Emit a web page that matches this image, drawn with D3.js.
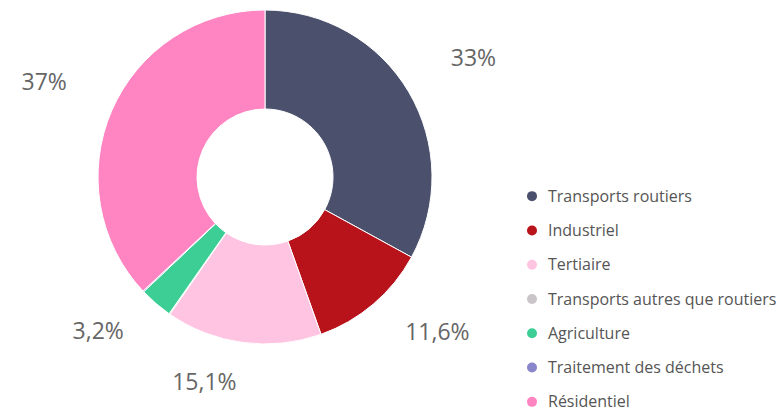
<!DOCTYPE html>
<html>
<head>
<meta charset="utf-8">
<script src="https://cdn.jsdelivr.net/npm/d3@7"></script>
<style>
  body { margin: 0; background: #fff; }
  svg { display: block; font-family: 'Open Sans', sans-serif; }
</style>
</head>
<body>
<div id="chart"></div>
<script>
const width = 783;
const height = 410;

// sectors, in drawing order (clockwise from the top)
const sectors = ['Transports routiers', 'Industriel', 'Tertiaire', 'Transports autres que routiers',
  'Agriculture', 'Traitement des déchets', 'Résidentiel'];
const shares = [33, 11.6, 15.1, 0.1, 3.2, 0.1, 37];
const labels = ['33%', '11,6%', '15,1%', '', '3,2%', '', '37%'];
const colors = ['#4b516c', '#b8121b', '#ffc4e1', '#c9c5c9', '#3cce94', '#8a86cc', '#ff84c2'];

const cx = 265;
const cy = 177;
const outerRadius = 167;
const innerRadius = 68;
const labelRadius = 216;

const svg = d3.select('#chart')
  .append('svg')
  .attr('width', width)
  .attr('height', height);

const data = sectors.map((s, i) => ({name: s, value: shares[i], label: labels[i], color: colors[i]}));

const pie = d3.pie()
  .sort(null)
  .value(d => d.value);

const arc = d3.arc()
  .innerRadius(innerRadius)
  .outerRadius(outerRadius);

const arcs = pie(data);

const g = svg.append('g')
  .attr('transform', 'translate(' + cx + ',' + cy + ')');

g.selectAll('path.slice')
  .data(arcs)
  .enter().append('path')
  .attr('class', 'slice')
  .attr('d', arc)
  .attr('fill', d => d.data.color)
  .attr('stroke', '#fff')
  .attr('stroke-width', 1);

// percentage labels outside the ring, no connectors
g.selectAll('text.pct')
  .data(arcs.filter(d => d.data.label))
  .enter().append('text')
  .attr('class', 'pct')
  .attr('x', d => labelRadius * Math.sin((d.startAngle + d.endAngle) / 2))
  .attr('y', d => -labelRadius * Math.cos((d.startAngle + d.endAngle) / 2) - 1)
  .attr('text-anchor', d => (d.startAngle + d.endAngle) / 2 < Math.PI ? 'start' : 'end')
  .attr('fill', '#666')
  .style('font-size', '23px')
  .text(d => d.data.label);

// legend
const legendX = 532;
const legendY = d3.scaleBand()
  .domain(sectors)
  .range([179, 419]);

const item = svg.selectAll('g.legend')
  .data(data)
  .enter().append('g')
  .attr('class', 'legend')
  .attr('transform', d => 'translate(' + legendX + ',' + (legendY(d.name) + legendY.bandwidth() / 2) + ')');

item.append('circle')
  .attr('r', 5)
  .attr('fill', d => d.color);

item.append('text')
  .attr('x', 16)
  .attr('dy', '0.35em')
  .attr('fill', '#555')
  .style('font-size', '16px')
  .text(d => d.name);
</script>
</body>
</html>
